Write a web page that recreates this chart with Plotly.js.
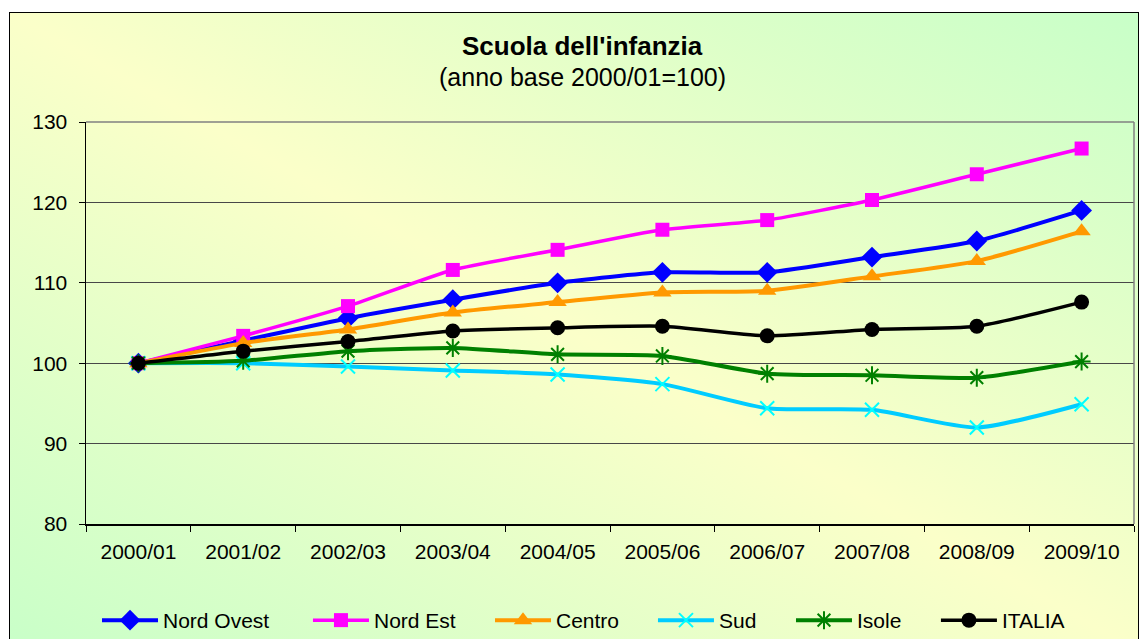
<!DOCTYPE html>
<html>
<head>
<meta charset="utf-8">
<script src="https://cdn.plot.ly/plotly-3.0.1.min.js"></script>
<style>
  html, body { margin: 0; padding: 0; background: #ffffff; width: 1139px; height: 639px; overflow: hidden; }
  #frame {
    position: absolute; left: 9px; top: 12px; width: 1130px; height: 640px;
    border: 1px solid #000;
    background: linear-gradient(to bottom left, #c8ffc8 0%, #fbffc9 50%, #c8ffc8 100%);
    box-sizing: border-box;
  }
  #chart { position: absolute; left: 0; top: 0; width: 1139px; height: 639px; }
</style>
</head>
<body>
<div id="frame"></div>
<div id="chart"></div>
<script>
const categories = ["2000/01","2001/02","2002/03","2003/04","2004/05","2005/06","2006/07","2007/08","2008/09","2009/10"];
const nordOvest = [100, 102.8, 105.6, 107.9, 110.0, 111.3, 111.3, 113.2, 115.2, 119.0];
const nordEst   = [100, 103.4, 107.1, 111.6, 114.1, 116.6, 117.8, 120.3, 123.5, 126.7];
const centro    = [100, 102.5, 104.2, 106.3, 107.6, 108.8, 109.0, 110.8, 112.7, 116.4];
const sud       = [100, 100.0, 99.6, 99.1, 98.6, 97.4, 94.4, 94.2, 92.0, 94.9];
const isole     = [100, 100.3, 101.5, 101.9, 101.1, 100.9, 98.7, 98.5, 98.2, 100.2];
const italia    = [100, 101.5, 102.7, 104.0, 104.4, 104.6, 103.4, 104.2, 104.6, 107.6];
const seriesNames = ["Nord Ovest","Nord Est","Centro","Sud","Isole","ITALIA"];

const FONT = "Liberation Sans, Arial, sans-serif";
const sm = 0.6;
const legendIds = ["legend","legend2","legend3","legend4","legend5","legend6"];
function tr(i, y, lineColor, lw, marker) {
  return { type: "scatter", mode: "lines+markers", name: seriesNames[i], x: categories, y: y,
    legend: legendIds[i],
    line: { color: lineColor, width: lw, shape: "spline", smoothing: sm },
    marker: marker, cliponaxis: false };
}
const data = [
  tr(0, nordOvest, "#0000FF", 4, { symbol: "diamond", size: 16, color: "#0000FF" }),
  tr(1, nordEst, "#FF00FF", 3.5, { symbol: "square", size: 14, color: "#FF00FF" }),
  tr(2, centro, "#FF9900", 4, { symbol: "triangle-up", size: 16, color: "#FF9900" }),
  tr(3, sud, "#00CCFF", 4, { symbol: "x-thin-open", size: 14, color: "#00FFFF", line: { color: "#00FFFF", width: 2 } }),
  tr(4, isole, "#008000", 4, { symbol: "asterisk-open", size: 15, color: "#008000", line: { color: "#008000", width: 2 } }),
  tr(5, italia, "#000000", 3.5, { symbol: "circle", size: 15, color: "#000000" })
];

const legendX = [0.0105, 0.2118, 0.3855, 0.541, 0.6727, 0.811];
function leg(x) {
  return { orientation: "h", x: x, xanchor: "left", y: -0.24, yanchor: "middle",
    font: { family: FONT, size: 21, color: "#000" },
    itemwidth: 56, bgcolor: "rgba(0,0,0,0)" };
}

const layout = {
  width: 1139, height: 639,
  paper_bgcolor: "rgba(0,0,0,0)",
  plot_bgcolor: "rgba(0,0,0,0)",
  margin: { l: 86, r: 5, t: 122, b: 115, autoexpand: false },
  font: { family: FONT, color: "#000" },
  showlegend: true,
  legend: leg(legendX[0]),
  legend2: leg(legendX[1]),
  legend3: leg(legendX[2]),
  legend4: leg(legendX[3]),
  legend5: leg(legendX[4]),
  legend6: leg(legendX[5]),
  xaxis: {
    type: "category", range: [-0.5, 9.5], autorange: false,
    showline: true, linecolor: "#000", linewidth: 1.5,
    ticks: "outside", tickson: "boundaries", ticklen: 6, tickcolor: "#000",
    ticklabelstandoff: 8,
    tickfont: { family: FONT, size: 21, color: "#000" },
    showgrid: false, mirror: false, fixedrange: true
  },
  yaxis: {
    range: [80, 130], autorange: false, dtick: 10, showline: true, linecolor: "#000", linewidth: 1.5,
    ticks: "outside", ticklen: 6, tickcolor: "#000",
    ticklabelstandoff: 7,
    tickfont: { family: FONT, size: 21, color: "#000" },
    showgrid: true, gridcolor: "#484848", gridwidth: 1, zeroline: false, fixedrange: true
  },
  shapes: [
    { type: "line", xref: "paper", yref: "paper", x0: 0, x1: 1, y0: 1, y1: 1, line: { color: "#808080", width: 1.5 } },
    { type: "line", xref: "paper", yref: "paper", x0: 1, x1: 1, y0: 0, y1: 1, line: { color: "#808080", width: 1.5 } }
  ],
  annotations: [
    { text: "<b>Scuola dell'infanzia</b>", xref: "paper", yref: "paper", x: 0.474, y: 1.19, xanchor: "center", yanchor: "middle",
      showarrow: false, font: { family: FONT, size: 26, color: "#000" } },
    { text: "(anno base 2000/01=100)", xref: "paper", yref: "paper", x: 0.474, y: 1.113, xanchor: "center", yanchor: "middle",
      showarrow: false, font: { family: FONT, size: 25, color: "#000" } }
  ]
};

Plotly.newPlot("chart", data, layout, { displayModeBar: false, staticPlot: true });
</script>
</body>
</html>
